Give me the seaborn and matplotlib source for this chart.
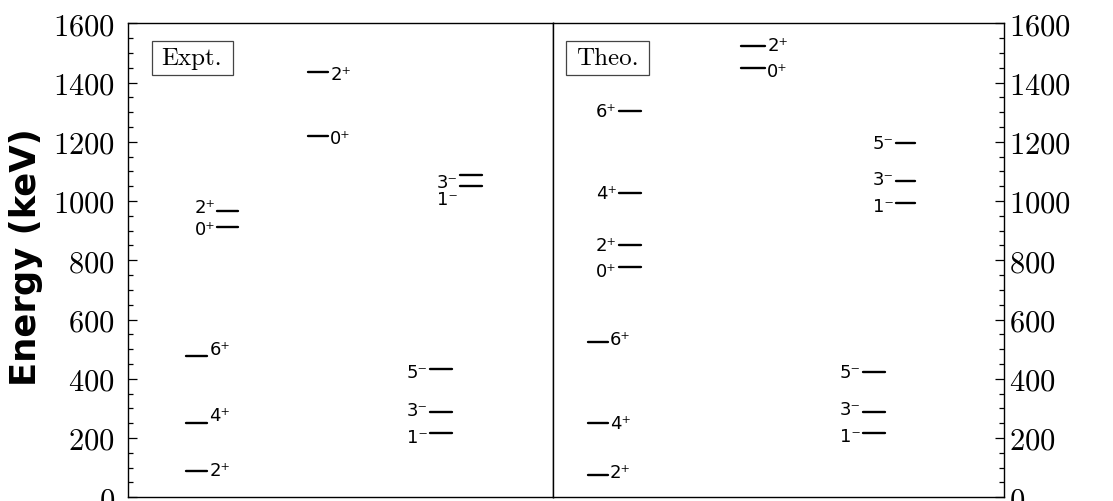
import pandas as pd
import matplotlib
matplotlib.use('Agg')
import matplotlib.pyplot as plt
import matplotlib.patches as mpatches
import seaborn as sns
from matplotlib.ticker import MultipleLocator

# level energies (keV) and spin/parity labels
expt_gsb_spin = ['2⁺', '4⁺', '6⁺']
expt_gsb_E = [88, 252, 478]
expt_b2_spin = ['0⁺', '2⁺']
expt_b2_E = [913, 965]
expt_b3_spin = ['0⁺', '2⁺']
expt_b3_E = [1220, 1436]
expt_neg_spin = ['1⁻', '3⁻', '5⁻']
expt_neg_E = [217, 289, 433]
expt_neg2_spin = ['1⁻', '3⁻']
expt_neg2_E = [1051, 1089]

theo_gsb_spin = ['2⁺', '4⁺', '6⁺']
theo_gsb_E = [76, 252, 525]
theo_b2_spin = ['0⁺', '2⁺', '4⁺', '6⁺']
theo_b2_E = [776, 853, 1027, 1303]
theo_b3_spin = ['0⁺', '2⁺']
theo_b3_E = [1448, 1524]
theo_neg_spin = ['1⁻', '3⁻', '5⁻']
theo_neg_E = [217, 289, 424]
theo_neg2_spin = ['1⁻', '3⁻', '5⁻']
theo_neg2_E = [993, 1067, 1197]

sns.set_style('white')
plt.rcParams['font.family'] = ['cmr10', 'DejaVu Serif']
plt.rcParams['axes.formatter.use_mathtext'] = True
for key in ['text.color', 'axes.labelcolor', 'xtick.color', 'ytick.color']:
    plt.rcParams[key] = 'black'

# layout: panel, x-range of the level line, label side, label y-shift (px)
bands = [
    ('expt', expt_gsb_spin, expt_gsb_E, 0.137, 0.187, 'right', [1, 8, 7]),
    ('expt', expt_b2_spin, expt_b2_E, 0.210, 0.259, 'left', [-2, 4]),
    ('expt', expt_b3_spin, expt_b3_E, 0.423, 0.471, 'right', [-2, -2]),
    ('expt', expt_neg_spin, expt_neg_E, 0.710, 0.762, 'left', [-4, 2, -3]),
    ('expt', expt_neg2_spin, expt_neg2_E, 0.780, 0.832, 'left', [-13, -7]),
    ('theo', theo_gsb_spin, theo_gsb_E, 0.077, 0.121, 'right', [3, 0, 3]),
    ('theo', theo_b2_spin, theo_b2_E, 0.145, 0.194, 'left', [-4, 0, 0, 0]),
    ('theo', theo_b3_spin, theo_b3_E, 0.416, 0.470, 'right', [-3, 1]),
    ('theo', theo_neg_spin, theo_neg_E, 0.687, 0.736, 'left', [-3, 3, 0]),
    ('theo', theo_neg2_spin, theo_neg2_E, 0.761, 0.803, 'left', [-3, 2, 0]),
]

rows = []
for b, (panel, spins, energies, x0, x1, side, dys) in enumerate(bands):
    for i, (s, e) in enumerate(zip(spins, energies)):
        uid = f'{b}_{i}'
        rows.append({'panel': panel, 'unit': uid, 'x': x0, 'E': e})
        rows.append({'panel': panel, 'unit': uid, 'x': x1, 'E': e})
levels = pd.DataFrame(rows)

fig = plt.figure(figsize=(11.13, 5.02), dpi=100)
ax_e = fig.add_axes([0.1147, 0.0074, 0.3826, 0.9442])
ax_t = fig.add_axes([0.4973, 0.0074, 0.4045, 0.9442])
axes = {'expt': ax_e, 'theo': ax_t}

for panel, ax in axes.items():
    sns.lineplot(data=levels[levels['panel'] == panel], x='x', y='E', units='unit',
                 estimator=None, sort=False, color='black', linewidth=1.7, ax=ax)
    ax.set_xlim(0, 1)
    ax.set_ylim(0, 1600)
    ax.set_xticks([])
    ax.set_xlabel('')
    ax.set_ylabel('')
    ax.yaxis.set_major_locator(MultipleLocator(200))
    ax.yaxis.set_minor_locator(MultipleLocator(50))
    for sp in ax.spines.values():
        sp.set_color('black')
        sp.set_linewidth(1.0)

for panel, spins, energies, x0, x1, side, dys in bands:
    ax = axes[panel]
    for s, e, dy in zip(spins, energies, dys):
        if side == 'right':
            ax.annotate(s, xy=(x1, e), xytext=(1.5, dy * 0.72),
                        textcoords='offset points', ha='left', va='center',
                        fontsize=13, family=['DejaVu Sans'])
        else:
            ax.annotate(s, xy=(x0, e), xytext=(-1.5, dy * 0.72),
                        textcoords='offset points', ha='right', va='center',
                        fontsize=13, family=['DejaVu Sans'])

ax_e.tick_params(axis='y', which='both', direction='in', left=True, right=False,
                 labelleft=True, labelright=False, labelsize=22, pad=9, width=0.9)
ax_e.tick_params(axis='y', which='major', length=6.5)
ax_e.tick_params(axis='y', which='minor', length=3.6)
ax_t.tick_params(axis='y', which='both', direction='in', left=False, right=True,
                 labelleft=False, labelright=True, labelsize=22, pad=4, width=0.9)
ax_t.tick_params(axis='y', which='major', length=6.5)
ax_t.tick_params(axis='y', which='minor', length=3.6)

# panel tags with frames
for ax, tag, bx, bw, tx in [(ax_e, 'Expt.', 0.057, 0.190, 0.0798),
                            (ax_t, 'Theo.', 0.0278, 0.184, 0.0506)]:
    ax.add_patch(mpatches.Rectangle((bx, 0.891), bw, 0.0717, transform=ax.transAxes,
                                    facecolor='white', edgecolor='#444444', linewidth=0.9))
    ax.text(tx, 0.914, tag, transform=ax.transAxes, fontsize=18, ha='left', va='baseline')

fig.text(0.0234, 0.487, 'Energy (keV)', rotation=90, ha='center', va='center',
         fontsize=25.5, fontweight='bold', family=['DejaVu Sans'])

fig.savefig('out.png', dpi=100)
